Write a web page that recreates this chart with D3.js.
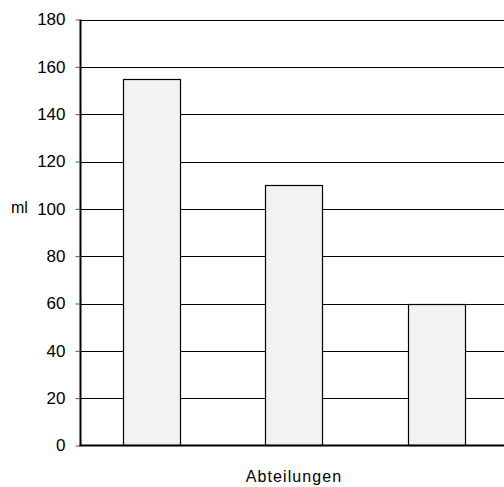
<!DOCTYPE html>
<html><head><meta charset="utf-8">
<script src="https://cdn.jsdelivr.net/npm/d3@7"></script>
<style>body{margin:0;background:#fff}svg{display:block;font-family:"Liberation Sans",Arial,sans-serif}</style>
</head><body>
<script>
const categories = ["A", "B", "C"];
const values = [155, 110, 60];
const yTicks = [0, 20, 40, 60, 80, 100, 120, 140, 160, 180];
const yLabel = "ml";
const xLabel = "Abteilungen";

(function () {
const W = 504, H = 487;
const mLeft = 80.5, mTop = 19.5, mBottom = 445.5, mRight = 507.5;
const svg = d3.select("body").append("svg").attr("width", W).attr("height", H);

const x = d3.scaleBand().domain(categories).range([80, mRight]).paddingInner(0.6).paddingOuter(0.3);
const y = d3.scaleLinear().domain([0, 180]).range([mBottom, mTop]);

// gridlines
svg.append("g").selectAll("line").data(yTicks.filter(d => d > 0)).join("line")
  .attr("x1", mLeft).attr("x2", W).attr("y1", d => Math.round(y(d)) + 0.5).attr("y2", d => Math.round(y(d)) + 0.5)
  .attr("stroke", "#000").attr("stroke-width", 1);

// bars
svg.append("g").selectAll("rect").data(values).join("rect")
  .attr("x", (d, i) => Math.round(x(categories[i])) + 0.5)
  .attr("y", d => Math.round(y(d)) + 0.5)
  .attr("width", x.bandwidth())
  .attr("height", d => mBottom - Math.round(y(d)) - 0.5)
  .attr("fill", "#f2f2f2").attr("stroke", "#000").attr("stroke-width", 1.2);

// y axis
const yAxis = d3.axisLeft(y).tickValues(yTicks).tickSize(5).tickPadding(10).tickFormat(d3.format("d"));
const gy = svg.append("g").attr("transform", `translate(${mLeft},0)`).call(yAxis);
gy.attr("font-size", 17).attr("font-family", "Liberation Sans, Arial, sans-serif");
gy.select(".domain").attr("stroke-width", 2).attr("d", `M0,${mBottom}V${mTop}`);
gy.selectAll(".tick line").attr("stroke", "#555");
gy.selectAll("text").attr("fill", "#000");

// bottom axis line
svg.append("line").attr("x1", mLeft - 1).attr("x2", W).attr("y1", mBottom).attr("y2", mBottom)
  .attr("stroke", "#000").attr("stroke-width", 2);

// labels
svg.append("text").attr("x", 11).attr("y", 213).attr("font-size", 16).text(yLabel);
svg.append("text").attr("x", 294).attr("y", 482).attr("text-anchor", "middle")
  .attr("font-size", 16).attr("letter-spacing", 1.1).text(xLabel);
})();
</script>
</body></html>
